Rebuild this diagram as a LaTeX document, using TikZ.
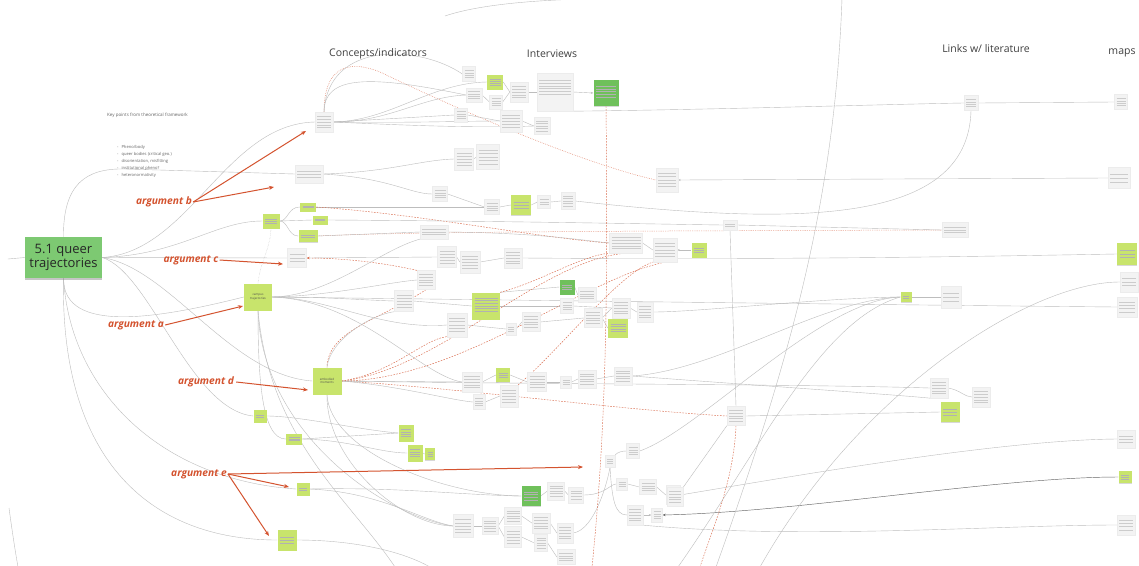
\documentclass[tikz,border=0pt]{standalone}
\usepackage{fontspec}
\setmainfont{Open Sans}
\usetikzlibrary{calc,shadows,backgrounds,arrows.meta}
\definecolor{maing}{HTML}{7DC972}
\definecolor{limec}{HTML}{C8E46C}
\definecolor{darkg}{HTML}{6FC05B}
\definecolor{argc}{HTML}{D4532F}
\definecolor{cardf}{HTML}{F3F3F3}
\definecolor{linec}{HTML}{BDBDBD}
\tikzset{
  conn/.style={draw=linec,line width=0.4pt},
  rdash/.style={draw=argc!85,line width=0.45pt,dash pattern=on 1.6pt off 1.3pt},
  rdot/.style={draw=argc!80,line width=0.5pt,dash pattern=on 0.6pt off 1.2pt},
  tipg/.style={-{Stealth[length=2.5pt,width=2pt]}},
  argarrow/.style={draw=argc,line width=1pt,-{Stealth[length=5pt,width=4pt]}},
  arglab/.style={font=\fontsize{10.2}{12}\selectfont\bfseries\itshape,text=argc,inner sep=0pt},
  hdr/.style={font=\fontsize{10.5}{12}\selectfont,text=black!75,inner sep=0pt},
  tinyt/.style={font=\fontsize{4.5}{6}\selectfont,text=black!60,inner sep=0pt},
  card/.style={rectangle,inner sep=0pt,draw=gray!15,line width=0.3pt,fill=cardf,
    drop shadow={shadow xshift=0pt,shadow yshift=-0.8pt,opacity=0.35,fill=gray}},
  sticky/.style={rectangle,inner sep=0pt,draw=none,fill=limec,
    drop shadow={shadow xshift=0pt,shadow yshift=-0.8pt,opacity=0.3,fill=gray}},
  tl/.style={path picture={\foreach \f in {#1}{\draw[gray!40,line width=0.5pt]
     ($(path picture bounding box.north west)!\f!(path picture bounding box.south west)+(2,0)$) --
     ($(path picture bounding box.north east)!\f!(path picture bounding box.south east)+(-2,0)$);}}},
  tl/.default={0.22,0.36,0.5,0.64,0.78},
  stl/.style={path picture={\foreach \f in {#1}{\draw[black!30,line width=0.45pt]
     ($(path picture bounding box.north west)!\f!(path picture bounding box.south west)+(2.5,0)$) --
     ($(path picture bounding box.north east)!\f!(path picture bounding box.south east)+(-2.5,0)$);}}},
  stl/.default={0.3,0.43,0.56,0.69},
  tl4/.style={tl={0.26,0.42,0.58,0.74}},
  tl3/.style={tl={0.32,0.5,0.68}},
  stl3/.style={stl={0.35,0.5,0.65}},
  stl2/.style={stl={0.42,0.58}},
  mainbox/.style={rectangle,inner sep=0pt,fill=maing,minimum width=77pt,minimum height=41pt,
    align=center,font=\fontsize{13}{14.5}\selectfont,text=black!85,
    drop shadow={shadow xshift=0pt,shadow yshift=-2.2pt,opacity=0.45,fill=gray}},
  stxt/.style={font=\fontsize{3}{3.6}\selectfont,text=black!70,align=center}
}
\newcommand\gbx[6][]{\node[card,tl,minimum width=#5pt,minimum height=#6pt,#1] (#2) at (#3,#4) {};}
\newcommand\skx[6][]{\node[sticky,stl,minimum width=#5pt,minimum height=#6pt,#1] (#2) at (#3,#4) {};}
\begin{document}
\begin{tikzpicture}[x=1pt,y=-1pt]
\useasboundingbox (0,0) rectangle (1139,565);
\clip (0,0) rectangle (1139,565);

% ---------- main and headers
\node[mainbox] (main) at (63.5,257.5) {5.1 queer\\trajectories};
\node[hdr] (h1) at (378,54) {Concepts/indicators};
\node[hdr] (h2) at (552,54) {Interviews};
\node[hdr] (h3) at (986,49) {Links w/ literature};
\node[hdr] (h4) at (1122,53) {maps};
\node[tinyt,anchor=west] (kp) at (107,115) {Key points from theoretical framework};
\node[tinyt,anchor=north west,align=left,font=\fontsize{4.1}{7}\selectfont] (bl) at (117,145.6)
 {-\hspace{3pt}Pheno/body\\-\hspace{3pt}queer bodies (critical geo.)\\-\hspace{3pt}disorientation, misfitting\\-\hspace{3pt}institutional pheno?\\-\hspace{3pt}heteronormativity};

% ---------- stickies
\skx[stl3]{s1}{271}{221}{17}{15}
\skx[stl2]{s2}{308}{207}{16}{9}
\skx[stl2]{s3}{320}{220}{15}{9}
\skx[stl2]{s4}{308}{236}{19}{12}
\node[sticky,minimum width=28pt,minimum height=27pt,stxt] (campus) at (258,297) {campus\\trajectories};
\node[sticky,minimum width=29pt,minimum height=27pt,stxt] (embodied) at (327,381) {embodied\\moments};
\skx[stl2]{s5}{260}{416}{13}{13}
\skx[stl3]{s6}{294}{439}{16}{11}
\skx{s7}{406}{433}{15}{17}
\skx{s8}{415}{453}{15}{17}
\skx[stl3]{s9}{430}{454}{10}{12}
\skx[stl2]{s10}{303}{489}{13}{13}
\skx[stl3]{s11}{287}{540}{19}{21}
\skx{s12}{495}{82}{16}{15}
\skx[stl3]{s13}{521}{205}{20}{20}
\skx[stl={0.2,0.3,...,0.8}]{s14}{486}{306}{28}{27}
\skx{s15}{618}{328}{20}{19}
\skx[stl3]{s16}{503}{375}{14}{14}
\skx[stl3]{s17}{699}{250}{15}{15}
\skx[stl2]{s18}{906}{297}{11}{10}
\skx[stl3]{s19}{950}{412}{19}{20}
\skx[stl3]{s20}{1127}{254}{20}{22}
\skx[stl3]{s21}{1125}{477}{13}{12}
\skx[fill=darkg,stl={0.25,0.35,...,0.75}]{d1}{606}{93}{25}{26}
\skx[fill=darkg,stl3]{d2}{567}{287}{15}{15}
\skx[fill=darkg]{d3}{531}{496}{19}{20}

% ---------- grey cards
\gbx{g1}{324}{122}{18}{20}
\gbx[tl4]{g2}{469}{74}{13}{15}
\gbx[tl4]{g3}{474}{95}{16}{14}
\gbx[tl4]{g4}{496}{102}{13}{14}
\gbx{g5}{519}{92}{18}{20}
\gbx[tl={0.2,0.27,...,0.62}]{g6}{555}{92}{36}{38}
\gbx[tl4]{g7}{461}{115}{13}{14}
\gbx{g8}{511}{121}{22}{22}
\gbx{g9}{542}{126}{16}{17}
\gbx[tl3]{g10}{309}{174}{28}{18}
\gbx{g11}{464}{159}{19}{22}
\gbx{g12}{488}{157}{23}{25}
\gbx{g13}{667}{180}{22}{24}
\gbx[tl4]{g14}{440}{194}{15}{15}
\gbx[tl4]{g15}{492}{207}{15}{15}
\gbx[tl3]{g16}{544}{202}{13}{13}
\gbx{g17}{568}{201}{14}{17}
\gbx[tl3]{g18}{434}{232}{28}{14}
\gbx[tl3]{g19}{297}{258}{19}{19}
\gbx{g20}{447}{257}{19}{21}
\gbx{g21}{470}{262}{20}{22}
\gbx{g22}{513}{258}{18}{20}
\gbx{g23}{626}{243}{33}{20}
\gbx{g24}{665}{250}{24}{24}
\gbx{g25}{426}{280}{18}{19}
\gbx{g26}{404}{301}{19}{21}
\gbx[tl4]{g27}{587}{295}{18}{15}
\gbx[tl4]{g28}{567}{306}{13}{15}
\gbx{g29}{593}{318}{18}{19}
\gbx{g30}{621}{308}{18}{20}
\gbx{g31}{645}{312}{16}{20}
\gbx{g32}{457}{325}{20}{24}
\gbx[tl3]{g33}{511}{329}{10}{12}
\gbx{g34}{531}{322}{18}{19}
\gbx{g35}{472}{382}{20}{20}
\gbx{g36}{537}{382}{19}{19}
\gbx[tl3]{g37}{566}{382}{11}{12}
\gbx{g38}{587}{379}{18}{18}
\gbx{g39}{623}{376}{18}{18}
\gbx{g40}{509}{396}{18}{22}
\gbx[tl4]{g41}{479}{402}{12}{15}
\gbx[tl3]{g42}{610}{461}{10}{12}
\gbx[tl4]{g43}{633}{451}{13}{15}
\gbx[tl3]{g44}{622}{484}{11}{12}
\gbx{g45}{556}{491}{17}{18}
\gbx[tl4]{g46}{576}{495}{15}{16}
\gbx[tl4]{g47}{648}{487}{17}{15}
\gbx{g48}{673}{495}{14}{19}
\gbx{g49}{463}{526}{20}{23}
\gbx{g50}{490}{526}{16}{17}
\gbx{g51}{513}{516}{17}{17}
\gbx{g52}{513}{537}{17}{21}
\gbx{g53}{541}{523}{18}{20}
\gbx{g54}{541}{543}{13}{17}
\gbx{g55}{565}{533}{16}{20}
\gbx[tl4]{g56}{566}{557}{18}{15}
\gbx{g57}{635}{515}{16}{20}
\gbx[tl4]{g58}{657}{515}{11}{14}
\gbx{g59}{736}{416}{18}{19}
\gbx{g60}{675}{497}{16}{19}
\gbx{g61}{939}{388}{18}{20}
\gbx{g62}{981}{397}{18}{20}
\gbx[tl3]{g63}{951}{297}{20}{22}
\gbx[tl4]{g64}{971}{103}{14}{15}
\gbx[tl4]{g65}{1121}{102}{13}{15}
\gbx[tl3]{g66}{1119}{178}{22}{21}
\gbx[tl={0.38,0.62}]{g67}{730}{225}{14}{10}
\gbx[tl3]{g68}{955}{230}{26}{15}
\gbx[tl3]{g69}{1129}{282}{18}{20}
\gbx[tl4]{g70}{1127}{307}{20}{20}
\gbx[tl3]{g71}{1126}{439}{18}{18}
\gbx[tl4]{g72}{1126}{525}{18}{20}

% ---------- argument labels
\node[arglab] (lb) at (164,202) {argument b};
\node[arglab] (lc) at (191,260) {argument c};
\node[arglab] (la) at (136,325) {argument a};
\node[arglab] (ld) at (206,382) {argument d};
\node[arglab] (le) at (199,474) {argument e};
\coordinate (ab1) at (306,131);
\coordinate (ab2) at (274,187);
\coordinate (ac1) at (283,264);
\coordinate (aa1) at (243,306);
\coordinate (ad1) at (308,390);
\coordinate (ae1) at (583,467);
\coordinate (ae2) at (289,487);
\coordinate (ae3) at (269,536);
\draw[argarrow] ([xshift=1pt]lb.east) -- (ab1);
\draw[argarrow] ([xshift=1pt]lb.east) -- (ab2);
\draw[argarrow] ([xshift=1pt]lc.east) -- (ac1);
\draw[argarrow] ([xshift=1pt]la.east) -- (aa1);
\draw[argarrow] ([xshift=2pt]ld.east) -- (ad1);
\draw[argarrow] ([xshift=1pt]le.east) -- (ae1);
\draw[argarrow] ([xshift=1pt]le.east) -- (ae2);
\draw[argarrow] ([xshift=1pt]le.east) -- (ae3);

% ---------- connectors (background)
\coordinate (ml) at (8,259);
\coordinate (t1) at (842,-2);
\coordinate (b1) at (716,567);
\coordinate (b2) at (760,567);
\coordinate (b3) at (678,567);
\coordinate (cb1) at (395,567);
\coordinate (cb2) at (430,567);
\coordinate (cb3) at (700,567);
\coordinate (cb4) at (592,567);
\coordinate (bl1) at (9,508);
\coordinate (bl2) at (18,567);
\coordinate (ta1) at (445,16);
\coordinate (ta2) at (585,-1);
\begin{pgfonlayer}{background}
\fill[white] (0,0) rectangle (1139,565);
% main
\draw[conn] (ml) -- (main.west);
\draw[conn] (main.north) .. controls (63,185) and (85,168) .. (125,169) -- (g10.west);
\draw[conn] (main.east) .. controls (190,252) and (225,124) .. (g1.west);
\draw[conn] (main.east) .. controls (180,255) and (215,221) .. (s1.west);
\draw[conn] (main.east) -- (g19.west);
\draw[conn] (main.south) .. controls (63,335) and (160,318) .. (campus.west);
\draw[conn] (main.east) .. controls (170,268) and (230,375) .. (embodied.west);
\draw[conn] (main.east) .. controls (150,272) and (190,410) .. (s5.west);
\draw[conn] (main.south) .. controls (70,390) and (160,480) .. (s10.west);
\draw[conn] (main.south) .. controls (60,460) and (150,540) .. (s11.west);
% s1 group
\draw[conn] (s1.east) .. controls (288,221) and (288,207) .. (s2.west);
\draw[conn] (s1.east) -- (s3.west);
\draw[conn] (s1.east) .. controls (288,221) and (288,236) .. (s4.west);
\draw[conn,densely dotted] (s1.south) .. controls (270,250) and (260,262) .. (campus.north);
\draw[conn] (s2.east) -- (g15.west);
\draw[rdash] (s2.east) .. controls (420,214) and (540,238) .. (g23.west);
\draw[conn] (s3.east) .. controls (500,221) and (650,224) .. (g67.west);
\draw[conn] (g67.east) -- (g68.west);
\draw[rdot] (s4.east) .. controls (400,232) and (600,231) .. (g68.west);
\draw[conn] (s4.east) -- (g18.west);
\draw[conn] (g18.east) .. controls (540,233) and (580,240) .. (g23.west);
% role
\draw[conn] (g10.east) .. controls (390,172) and (420,160) .. (g11.west);
\draw[conn] (g10.east) .. controls (390,178) and (410,194) .. (g14.west);
\draw[conn] (g11.east) -- (g12.west);
\draw[conn] (g14.east) -- (g15.west);
\draw[conn] (g15.east) -- (s13.west);
\draw[conn] (s13.east) -- (g16.west);
\draw[conn] (g16.east) -- (g17.west);
\draw[conn] (g17.east) .. controls (800,226) and (968,225) .. (g64.south);
\draw[conn,tipg] (g66.west) -- (g13.east);
\draw[rdot] (g1.north) .. controls (324,70) and (345,58) .. (380,72) .. controls (480,120) and (590,165) .. (g13.west);
% sense
\draw[conn] (g1.north) .. controls (324,75) and (370,75) .. (g3.west);
\draw[conn] (g1.north) .. controls (328,40) and (420,45) .. (g2.west);
\draw[conn] (g1.east) .. controls (390,121) and (430,83) .. (s12.west);
\draw[conn] (g1.east) .. controls (390,122) and (420,97) .. (g3.west);
\draw[conn] (g1.east) -- (g7.west);
\draw[conn] (g1.east) .. controls (420,123) and (460,121) .. (g8.west);
\draw[conn] (g1.east) .. controls (420,126) and (480,128) .. (g9.west);
\draw[conn] (g3.east) -- (g4.west);
\draw[conn] (g4.east) -- (g5.west);
\draw[conn] (s12.east) -- (g5.west);
\draw[conn] (g5.east) -- (g6.west);
\draw[conn,tipg] (g6.east) -- (d1.west);
\draw[conn] (g7.east) -- (g8.west);
\draw[conn] (g8.east) -- (g9.west);
\draw[conn] (g6.south east) .. controls (700,110) and (900,104) .. (g64.west);
\draw[conn] (g64.east) -- (g65.west);
% row 258
\draw[conn] (g20.west) -- (g19.east);
\draw[rdash,-{Stealth[length=3pt,width=2.5pt]}] (g25.north west) .. controls (380,262) and (340,258) .. (g19.east);
\draw[conn] (g20.east) -- (g21.west);
\draw[conn] (g21.east) -- (g22.west);
\draw[conn] (g22.east) .. controls (800,260) and (1000,256) .. (s20.west);
\draw[conn,tipg] (s17.west) -- (g24.east);
\draw[conn] (g23.east) -- (g24.west);
\draw[rdash] (g25.south) .. controls (380,320) and (328,330) .. (embodied.north);
% campus
\draw[conn] (campus.east) .. controls (330,297) and (360,300) .. (g26.west);
\draw[conn] (campus.east) .. controls (330,298) and (380,330) .. (g32.west);
\draw[conn] (campus.east) .. controls (330,296) and (380,250) .. (g18.south west);
\draw[conn] (campus.east) .. controls (330,296) and (390,282) .. (g25.west);
\draw[conn] (campus.east) .. controls (500,300) and (900,305) .. (g70.west);
\draw[conn] (campus.east) .. controls (360,300) and (420,375) .. (g35.west);
\draw[conn] (campus.south) .. controls (258,380) and (262,439) .. (s6.west);
\draw[conn] (campus.south) .. controls (262,430) and (380,515) .. (g49.west);
\draw[conn] (campus.south) .. controls (270,440) and (350,500) .. (cb1);
% s14 area
\draw[conn] (g26.east) -- (s14.west);
\draw[conn] (g32.east) -- (g33.west);
\draw[conn] (g33.east) -- (g34.west);
\draw[conn] (s14.north east) -- (d2.west);
\draw[conn] (s14.east) -- (g28.west);
\draw[conn] (d2.east) -- (g27.west);
\draw[conn] (g28.east) -- (g30.west);
\draw[conn] (g34.east) -- (g29.west);
\draw[conn] (g29.east) -- (g30.west);
\draw[conn] (g29.east) -- (s15.west);
\draw[conn] (g30.east) -- (g31.west);
\draw[conn] (g31.east) .. controls (700,312) and (820,298) .. (s18.west);
\draw[rdash] (s14.north east) .. controls (540,282) and (580,256) .. (g23.south west);
\draw[rdash] (g40.north east) .. controls (560,350) and (620,272) .. (g24.south west);
% embodied
\draw[rdash] (embodied.east) .. controls (440,370) and (540,260) .. (g23.south);
\draw[rdash] (embodied.east) .. controls (460,380) and (580,280) .. (g24.south);
\draw[rdash] (embodied.east) .. controls (400,372) and (430,330) .. (g32.south);
\draw[rdash] (embodied.east) .. controls (460,388) and (620,410) .. (g59.west);
\draw[conn] (embodied.east) -- (g35.west);
\draw[conn] (embodied.east) .. controls (500,384) and (800,384) .. (g61.west);
\draw[conn] (embodied.east) .. controls (400,386) and (450,400) .. (g41.west);
\draw[conn] (embodied.north) .. controls (330,340) and (370,315) .. (g26.south west);
\draw[conn] (embodied.south) .. controls (326,460) and (400,525) .. (g49.west);
\draw[conn] (embodied.south) .. controls (330,450) and (440,495) .. (d3.west);
\draw[conn] (g35.east) -- (s16.west);
\draw[conn] (s16.east) -- (g36.west);
\draw[conn] (g36.east) -- (g37.west);
\draw[conn] (g37.east) -- (g38.west);
\draw[conn] (g38.east) -- (g39.west);
\draw[conn] (g41.east) -- (g40.west);
\draw[conn] (g39.east) .. controls (750,385) and (900,395) .. (g61.south west);
\draw[conn] (g39.east) .. controls (720,370) and (820,300) .. (s18.west);
\draw[conn] (g61.east) .. controls (960,390) and (965,397) .. (g62.west);
% lower
\draw[conn] (s5.east) .. controls (300,416) and (360,430) .. (s7.west);
\draw[conn] (s6.east) -- (s7.west);
\draw[conn] (s6.east) .. controls (350,440) and (380,453) .. (s8.west);
\draw[conn] (s8.east) -- (s9.west);
\draw[conn] (s10.east) .. controls (400,487) and (460,495) .. (d3.west);
\draw[conn] (s10.east) .. controls (380,492) and (420,520) .. (g49.west);
\draw[conn] (s11.east) .. controls (350,540) and (400,550) .. (cb2);
\draw[conn] (d3.east) -- (g45.west);
\draw[conn] (g45.east) -- (g46.west);
\draw[conn] (g46.east) .. controls (605,495) and (610,484) .. (g44.west);
\draw[conn] (g44.east) -- (g47.west);
\draw[conn] (g47.east) -- (g48.west);
\draw[conn] (g49.east) -- (g50.west);
\draw[conn] (g50.east) -- (g51.west);
\draw[conn] (g50.east) -- (g52.west);
\draw[conn] (g51.east) -- (g53.west);
\draw[conn] (g52.east) -- (g54.west);
\draw[conn] (g53.east) -- (g55.west);
\draw[conn] (g54.east) -- (g56.west);
\draw[conn] (g55.east) .. controls (595,530) and (608,480) .. (g42.south);
\draw[conn] (g42.north east) .. controls (618,452) and (622,451) .. (g43.west);
\draw[conn] (g42.south) .. controls (612,500) and (615,515) .. (g57.west);
\draw[conn,tipg] (g57.east) -- (g58.west);
\draw[conn] (g43.east) .. controls (700,430) and (820,300) .. (s18.west);
\draw[conn] (g60.north east) -- (g59.south west);
\draw[conn] (g48.east) .. controls (800,475) and (1000,440) .. (g71.west);
\draw[draw=black!60,line width=0.45pt,-{Stealth[length=3pt,width=2.5pt]}] (s21.west) .. controls (1000,477) and (800,512) .. (g58.east);
\draw[conn] (g57.south east) .. controls (800,540) and (1000,525) .. (g72.west);
\draw[conn] (g67.south) -- (g59.north);
\draw[conn] (g59.east) -- (s19.west);
\draw[rdash] (g59.south) .. controls (734,480) and (712,530) .. (cb3);
\draw[rdash] (d1.south) .. controls (608,300) and (606,430) .. (cb4);
\draw[conn] (s18.east) -- (g63.west);
% long free curves
\draw[conn] (t1) .. controls (835,200) and (790,360) .. (b1);
\draw[conn] (g69.west) .. controls (1030,282) and (860,390) .. (b2);
\draw[conn] (b3) .. controls (760,450) and (820,320) .. (s18.west);
\draw[conn] (bl1) .. controls (12,530) and (15,550) .. (bl2);
\draw[conn] (ta1) .. controls (480,4) and (540,0) .. (ta2);
\end{pgfonlayer}
\end{tikzpicture}
\end{document}
